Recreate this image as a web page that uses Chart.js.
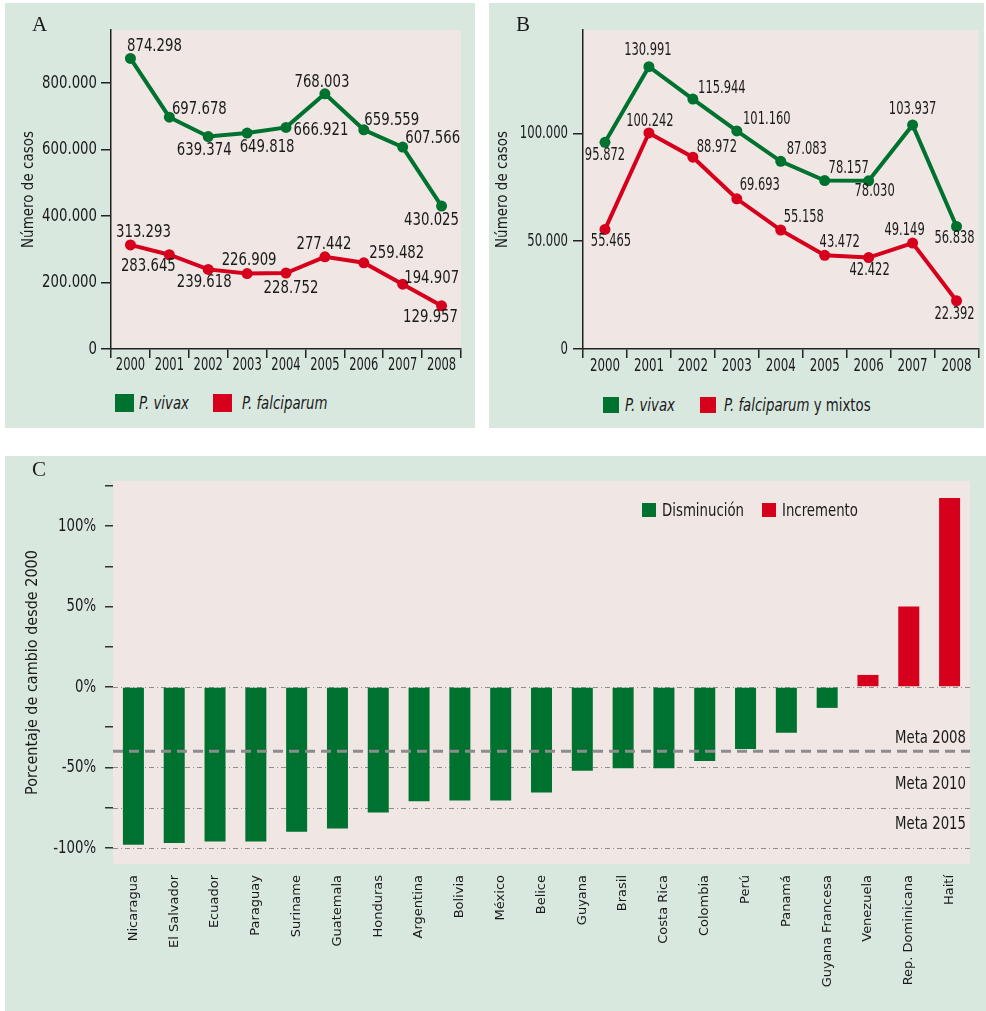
<!DOCTYPE html>
<html>
<head>
<meta charset="utf-8">
<script src="https://cdn.jsdelivr.net/npm/chart.js@4.4.1/dist/chart.umd.min.js"></script>
<style>
  body { margin: 0; background: #fff; width: 986px; height: 1011px; position: relative; overflow: hidden;
         font-family: 'DejaVu Sans Condensed', 'Liberation Sans Narrow', 'Roboto', sans-serif; color: #1a1a1a; }
  .panel { position: absolute; background: #d9e8df; }
  .panel canvas { position: absolute; left: 0; top: 0; }
  .letter { position: absolute; font-family: 'Liberation Serif', 'DejaVu Serif', serif; font-size: 21px; line-height: 1; }
  .sw { position: absolute; }
  .lg { position: absolute; font-size: 17px; line-height: 18px; white-space: nowrap; transform: scaleX(0.87); transform-origin: left center; }
</style>
</head>
<body>

<div class="panel" style="left:5px;top:3px;width:470px;height:425px">
  <canvas id="chartA" width="470" height="376"></canvas>
  <div class="letter" style="left:27px;top:11px">A</div>
  <span class="sw" style="left:110px;top:391px;width:19px;height:18px;background:#00722f"></span>
  <span class="lg" style="left:134px;top:391px"><i>P. vivax</i></span>
  <span class="sw" style="left:208px;top:391px;width:19px;height:18px;background:#d7001c"></span>
  <span class="lg" style="left:237px;top:391px"><i>P. falciparum</i></span>
</div>

<div class="panel" style="left:489px;top:3px;width:495px;height:425px">
  <canvas id="chartB" width="495" height="376"></canvas>
  <div class="letter" style="left:27px;top:11px">B</div>
  <span class="sw" style="left:114px;top:394px;width:16px;height:16px;background:#00722f"></span>
  <span class="lg" style="left:136px;top:393px"><i>P. vivax</i></span>
  <span class="sw" style="left:211px;top:394px;width:16px;height:16px;background:#d7001c"></span>
  <span class="lg" style="left:235px;top:393px"><i>P. falciparum</i> y mixtos</span>
</div>

<div class="panel" style="left:5px;top:456px;width:981px;height:555px">
  <canvas id="chartC" width="981" height="540"></canvas>
  <div class="letter" style="left:27px;top:3px">C</div>
  <span class="sw" style="left:637px;top:47px;width:14px;height:14px;background:#00722f"></span>
  <span class="lg" style="left:657px;top:45px">Disminución</span>
  <span class="sw" style="left:757px;top:47px;width:14px;height:14px;background:#d7001c"></span>
  <span class="lg" style="left:777px;top:45px">Incremento</span>
</div>

<script>
// ---- data ----
const years = ["2000", "2001", "2002", "2003", "2004", "2005", "2006", "2007", "2008"];

const vivaxA = [874298, 697678, 639374, 649818, 666921, 768003, 659559, 607566, 430025];
const falciA = [313293, 283645, 239618, 226909, 228752, 277442, 259482, 194907, 129957];

const vivaxB = [95872, 130991, 115944, 101160, 87083, 78157, 78030, 103937, 56838];
const falciB = [55465, 100242, 88972, 69693, 55158, 43472, 42422, 49149, 22392];

const countries = ["Nicaragua", "El Salvador", "Ecuador", "Paraguay", "Suriname", "Guatemala",
  "Honduras", "Argentina", "Bolivia", "México", "Belice", "Guyana", "Brasil", "Costa Rica",
  "Colombia", "Perú", "Panamá", "Guyana Francesa", "Venezuela", "Rep. Dominicana", "Haití"];
const changePct = [-98, -97, -96, -96, -90, -88, -78, -71, -70.5, -70.5, -65.5, -52, -50.5, -50.5,
  -46, -38.5, -28.5, -13, 7.5, 50, 117.5];

// metas (goal lines) for panel C
const goalValues = [-40, -50, -75];
const goalNames = ["Meta 2008", "Meta 2010", "Meta 2015"];
const guideValues = [0, -50, -75, -100];

// where each value label sits relative to its point (dx, dy)
const shiftVivaxA = [[24, -12], [30, -8], [-4, 14], [20, 14], [35, 3], [-3, -11], [28, -10], [30, -9], [-10, 14]];
const shiftFalciA = [[13, -13], [-21, 12], [-4, 13], [2, -13], [5, 15], [-1, -12], [33, -9], [29, -6], [-11, 12]];
const shiftVivaxB = [[0, 13], [-1, -16], [29, -11], [30, -12], [26, -12], [24, -12], [6, 11], [0, -16], [-2, 12]];
const shiftFalciB = [[6, 12], [1, -12], [24, -10], [23, -13], [23, -13], [15, -13], [1, 13], [-8, -13], [-2, 14]];

// ---- style ----
const GREEN = "#00722f";
const RED = "#d7001c";
const PLOT_BG = "#f0e7e5";
const INK = "#1a1a1a";
const HIDDEN = "rgba(0,0,0,0)";
const FONT = "'DejaVu Sans Condensed', 'Liberation Sans Narrow', 'Roboto', sans-serif";

const fmt = v => String(v).replace(/\B(?=(\d{3})+(?!\d))/g, ".");

// the original uses a very narrow typeface, so text is squeezed horizontally
function squeezeText(ctx, text, x, y, sq) {
  ctx.save();
  ctx.translate(x, y);
  ctx.scale(sq, 1);
  ctx.fillText(text, 0, 0);
  ctx.restore();
}

const plotBg = {
  id: "plotBg",
  beforeDraw(chart) {
    const { ctx, chartArea: a } = chart;
    ctx.save();
    ctx.fillStyle = PLOT_BG;
    ctx.fillRect(a.left, a.top, a.right - a.left, a.bottom - a.top);
    ctx.restore();
  }
};

// tick labels drawn with the squeezed narrow look
function tickText(cfgs) {
  return {
    id: "tickText",
    afterDraw(chart) {
      const ctx = chart.ctx;
      ctx.save();
      ctx.fillStyle = INK;
      ctx.textBaseline = "middle";
      cfgs.forEach(cfg => {
        const scale = chart.scales[cfg.id];
        const horiz = scale.isHorizontal();
        ctx.font = cfg.size + "px " + FONT;
        ctx.textAlign = horiz ? "center" : "right";
        scale.ticks.forEach((t, i) => {
          if (!t.label) return;
          const p = scale.getPixelForTick(i);
          if (horiz) squeezeText(ctx, t.label, p, scale.top + cfg.gap, cfg.squeeze);
          else squeezeText(ctx, t.label, scale.right - cfg.gap, p, cfg.squeeze);
        });
      });
      ctx.restore();
    }
  };
}

const pointLabels = {
  id: "pointLabels",
  afterDatasetsDraw(chart, args, opts) {
    const ctx = chart.ctx;
    ctx.save();
    ctx.font = "18px " + FONT;
    ctx.fillStyle = INK;
    ctx.textAlign = "center";
    ctx.textBaseline = "middle";
    chart.data.datasets.forEach((ds, i) => {
      chart.getDatasetMeta(i).data.forEach((pt, j) => {
        const [dx, dy] = ds.labelShift[j];
        squeezeText(ctx, fmt(ds.data[j]), pt.x + dx, pt.y + dy, opts.squeeze);
      });
    });
    ctx.restore();
  }
};

function lineChart(id, vivax, falci, shiftV, shiftF, o) {
  return new Chart(document.getElementById(id), {
    type: "line",
    data: {
      labels: years,
      datasets: [
        { data: vivax, borderColor: GREEN, backgroundColor: GREEN, labelShift: shiftV },
        { data: falci, borderColor: RED, backgroundColor: RED, labelShift: shiftF },
      ],
    },
    options: {
      responsive: false,
      animation: false,
      layout: { padding: { left: o.padLeft, top: 27, right: o.padRight, bottom: 0 } },
      elements: {
        line: { borderWidth: 4, tension: 0 },
        point: { radius: 5.5, hoverRadius: 5.5, borderWidth: 0 },
      },
      plugins: {
        legend: { display: false },
        tooltip: { enabled: false },
        pointLabels: { squeeze: o.labelSqueeze },
      },
      scales: {
        x: {
          offset: true,
          afterFit: s => { s.height = 30; },
          grid: { offset: true, drawOnChartArea: false, tickLength: 9, color: "#222", lineWidth: 1.5 },
          border: { color: "#222", width: 1.5 },
          ticks: { color: HIDDEN, autoSkip: false, maxRotation: 0, font: { size: 10 } },
        },
        y: {
          beginAtZero: true,
          max: o.max,
          afterFit: s => { s.width = o.yWidth; },
          grid: { drawOnChartArea: false, tickLength: 10, color: "#222", lineWidth: 1.5 },
          border: { color: "#222", width: 1.5 },
          ticks: { stepSize: o.step, includeBounds: false, callback: v => fmt(v), color: HIDDEN },
          title: { display: true, text: "Número de casos", color: INK, font: { family: FONT, size: 15 }, padding: 4 },
        },
      },
    },
    plugins: [plotBg, pointLabels, tickText(o.ticks)],
  });
}

lineChart("chartA", vivaxA, falciA, shiftVivaxA, shiftFalciA, {
  max: 960000, step: 200000, padLeft: 11, padRight: 14, yWidth: 95, labelSqueeze: 0.82,
  ticks: [{ id: "y", size: 18, squeeze: 0.82, gap: 14 }, { id: "x", size: 18, squeeze: 0.71, gap: 16 }],
});

lineChart("chartB", vivaxB, falciB, shiftVivaxB, shiftFalciB, {
  max: 148000, step: 50000, padLeft: 1, padRight: 4, yWidth: 93, labelSqueeze: 0.71,
  ticks: [{ id: "y", size: 18, squeeze: 0.72, gap: 15 }, { id: "x", size: 18, squeeze: 0.73, gap: 17.5 }],
});

// -----------------------
// Panel C (bars + metas)
// -----------------------
const goalLines = {
  id: "goalLines",
  beforeDatasetsDraw(chart) {
    const { ctx, chartArea: a, scales: { y } } = chart;
    ctx.save();
    ctx.strokeStyle = "#8f8f8f";
    ctx.lineWidth = 1.2;
    ctx.setLineDash([5, 3, 1, 3]);
    guideValues.forEach(v => {
      const py = Math.round(y.getPixelForValue(v)) + 0.5;
      ctx.beginPath();
      ctx.moveTo(a.left, py);
      ctx.lineTo(a.right, py);
      ctx.stroke();
    });
    ctx.restore();
  },
  afterDatasetsDraw(chart) {
    const { ctx, chartArea: a, scales: { y } } = chart;
    ctx.save();
    ctx.strokeStyle = "#8c8c8c";
    ctx.lineWidth = 3;
    ctx.setLineDash([10, 6]);
    const py = y.getPixelForValue(goalValues[0]);
    ctx.beginPath();
    ctx.moveTo(a.left, py);
    ctx.lineTo(a.right, py);
    ctx.stroke();

    ctx.setLineDash([]);
    ctx.fillStyle = INK;
    ctx.font = "18px " + FONT;
    ctx.textAlign = "right";
    ctx.textBaseline = "middle";
    goalValues.forEach((v, i) => {
      const side = i === 0 ? -13 : 17;
      squeezeText(ctx, goalNames[i], a.right - 4, y.getPixelForValue(v) + side, 0.82);
    });
    ctx.restore();
  }
};

new Chart(document.getElementById("chartC"), {
  type: "bar",
  data: {
    labels: countries,
    datasets: [{
      data: changePct,
      backgroundColor: ctx => (ctx.raw < 0 ? GREEN : RED),
      barPercentage: 0.515,
      categoryPercentage: 1,
    }],
  },
  options: {
    responsive: false,
    animation: false,
    layout: { padding: { left: 14, top: 25, right: 16, bottom: 0 } },
    plugins: { legend: { display: false }, tooltip: { enabled: false } },
    scales: {
      x: {
        afterFit: s => { s.height = 132; },
        grid: { display: false, drawTicks: false },
        border: { display: false },
        ticks: {
          autoSkip: false,
          minRotation: 90,
          maxRotation: 90,
          padding: 11,
          color: INK,
          font: { family: "'DejaVu Sans', sans-serif", size: 13 },
        },
      },
      y: {
        min: -110,
        max: 128,
        afterFit: s => { s.width = 94; },
        grid: { drawOnChartArea: false, tickLength: 8, color: "#333", lineWidth: 1.5 },
        border: { display: false },
        ticks: {
          stepSize: 25,
          includeBounds: false,
          callback: v => (v % 50 === 0 ? v + "%" : ""),
          color: HIDDEN,
        },
        title: { display: true, text: "Porcentaje de cambio desde 2000", color: INK, font: { family: FONT, size: 16 }, padding: 4 },
      },
    },
  },
  plugins: [plotBg, goalLines, tickText([{ id: "y", size: 18, squeeze: 0.82, gap: 17 }])],
});
</script>
</body>
</html>
